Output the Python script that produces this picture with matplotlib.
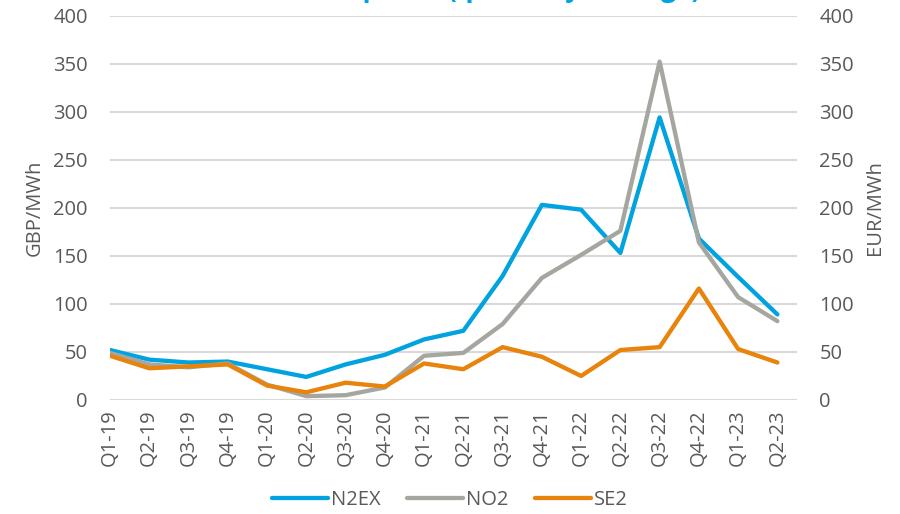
import matplotlib.pyplot as plt

plt.rcParams["font.family"] = ["Open Sans", "DejaVu Sans"]

quarters = ["Q1-19", "Q2-19", "Q3-19", "Q4-19", "Q1-20", "Q2-20", "Q3-20", "Q4-20",
            "Q1-21", "Q2-21", "Q3-21", "Q4-21", "Q1-22", "Q2-22", "Q3-22", "Q4-22",
            "Q1-23", "Q2-23"]
n2ex = [52, 42, 39, 40, 32, 24, 37, 47, 63, 72, 129, 203, 198, 153, 294, 168, 128, 89]
no2 = [49, 37, 34, 38, 16, 4, 5, 13, 46, 49, 79, 127, 151, 176, 352, 164, 107, 82]
se2 = [46, 33, 35, 37, 15, 8, 18, 14, 38, 32, 55, 45, 25, 52, 55, 116, 53, 39]
yticks = [0, 50, 100, 150, 200, 250, 300, 350, 400]

TXT = "#595959"
FS = 14.5

fig = plt.figure(figsize=(9, 5.14), dpi=100)
ax = fig.add_axes([0.1222, 0.2218, 0.7634, 0.748])
x = range(len(quarters))

ax.plot(x, n2ex, color="#00A3E0", lw=3.1, label="N2EX", solid_capstyle="round", solid_joinstyle="round")
ax.plot(x, no2, color="#A6A6A0", lw=3.1, label="NO2", solid_capstyle="round", solid_joinstyle="round")
ax.plot(x, se2, color="#E8830C", lw=3.1, label="SE2", solid_capstyle="round", solid_joinstyle="round")

ax.set_xlim(0, len(quarters) - 0.5)
ax.set_ylim(0, 400)
ax.set_yticks(yticks)
ax.set_xticks(list(x))
ax.set_xticklabels(quarters, rotation=90)
ax.grid(axis="y", color="#D9D9D9", lw=1.5)
ax.set_axisbelow(True)
for s in ax.spines.values():
    s.set_visible(False)
ax.tick_params(axis="y", length=0, pad=16, labelsize=FS, labelcolor=TXT)
ax.tick_params(axis="x", length=0, pad=7, labelsize=FS, labelcolor=TXT)
ax.set_ylabel("GBP/MWh", fontsize=FS, color=TXT, labelpad=6)

ax2 = ax.twinx()
ax2.set_ylim(0, 400)
ax2.set_yticks(yticks)
for s in ax2.spines.values():
    s.set_visible(False)
ax2.tick_params(axis="y", length=0, pad=16, labelsize=FS, labelcolor=TXT)
ax2.set_ylabel("EUR/MWh", fontsize=FS, color=TXT, labelpad=8)

leg = fig.legend(*ax.get_legend_handles_labels(), loc="center", bbox_to_anchor=(0.5, 0.027),
                 ncol=3, frameon=False, fontsize=FS, handlelength=2.8, handletextpad=0.15,
                 columnspacing=1.3)
for t in leg.get_texts():
    t.set_color(TXT)

# title sits mostly above the canvas, only descenders show
fig.text(0.778, 1 + 3 / 514, "Wholesale prices (quarterly average)", ha="right", va="baseline",
         fontsize=19, fontweight="bold", color="#00A3E0")

fig.savefig("out.png", dpi=100)
